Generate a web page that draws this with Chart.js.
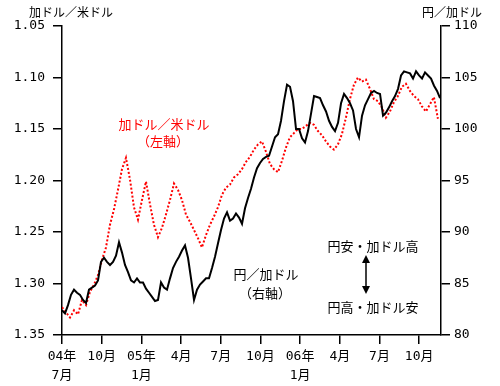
<!DOCTYPE html>
<html>
<head>
<meta charset="utf-8">
<script src="https://cdn.jsdelivr.net/npm/chart.js@4.4.0/dist/chart.umd.min.js"></script>
<style>
  body { margin: 0; background: #fff; }
  #wrap { width: 500px; height: 386px; position: relative; }
</style>
</head>
<body>
<div id="wrap"><canvas id="myChart"></canvas></div>
<script>
// x axis is in months counted from July 2004
var xTickPos = [0, 3, 6, 9, 12, 15, 18, 21, 24, 27];
var xTickLabels = [["04年", "7月"], "10月", ["05年", "1月"], "4月", "7月", "10月", ["06年", "1月"], "4月", "7月", "10月"];
var xMax = 28.65;

// 円／加ドル (right axis), one value per week
var yenStep = 0.2268;
var yenPerCad = [
  82.4, 82.1, 82.9, 83.9, 84.4, 84.1, 83.9, 83.4, 83.1, 84.4,
  84.6, 84.8, 85.3, 87.1, 87.5, 87.1, 86.8, 87.1, 87.7, 89.0,
  88.0, 86.8, 86.1, 85.3, 85.1, 85.5, 85.1, 85.1, 84.5, 84.1,
  83.7, 83.3, 83.4, 85.1, 84.6, 84.4, 85.5, 86.5, 87.1, 87.6,
  88.2, 88.7, 87.5, 85.5, 83.4, 84.4, 84.9, 85.2, 85.5, 85.5,
  86.5, 87.6, 88.9, 90.2, 91.3, 91.9, 91.1, 91.3, 91.8, 91.4,
  90.8, 92.3, 93.3, 94.2, 95.3, 96.2, 96.7, 97.1, 97.3, 97.4,
  98.3, 99.2, 99.5, 100.8, 102.7, 104.3, 104.1, 102.7, 100.0, 100.0,
  99.1, 98.7, 99.8, 101.5, 103.2, 103.1, 103.0, 102.3, 101.7, 100.8,
  100.2, 99.8, 100.6, 102.5, 103.4, 103.0, 102.5, 101.8, 100.0, 99.2,
  101.3, 102.3, 102.9, 103.5, 103.7, 103.5, 103.4, 101.3, 101.6, 102.1,
  102.7, 103.2, 103.9, 105.2, 105.6, 105.5, 105.4, 104.9, 105.6, 105.2,
  104.9, 105.5, 105.2, 104.9, 104.2, 103.7, 103.0
];

// 加ドル／米ドル (left axis, inverted)
var cadStep = 0.3023;
var cadPerUsd = [
  1.323, 1.328, 1.333, 1.326, 1.330, 1.316, 1.321, 1.308, 1.301, 1.292,
  1.277, 1.265, 1.243, 1.228, 1.209, 1.189, 1.178, 1.199, 1.226, 1.238,
  1.219, 1.201, 1.223, 1.243, 1.255, 1.246, 1.233, 1.219, 1.203, 1.209,
  1.219, 1.233, 1.240, 1.248, 1.256, 1.265, 1.253, 1.243, 1.235, 1.226,
  1.214, 1.207, 1.204, 1.197, 1.194, 1.189, 1.182, 1.177, 1.170, 1.165,
  1.162, 1.172, 1.184, 1.189, 1.192, 1.181, 1.168, 1.158, 1.154, 1.150,
  1.150, 1.147, 1.144, 1.146, 1.152, 1.156, 1.162, 1.167, 1.170, 1.165,
  1.155, 1.139, 1.121, 1.107, 1.100, 1.104, 1.102, 1.111, 1.121, 1.123,
  1.129, 1.139, 1.133, 1.124, 1.118, 1.109, 1.106, 1.113, 1.118, 1.121,
  1.128, 1.133, 1.126, 1.119, 1.140
];

var jpFont = '"Noto Sans CJK JP", sans-serif';

// texts and arrow drawn on top of the chart
var notes = {
  id: 'notes',
  afterDraw: function(chart) {
    var ctx = chart.ctx;
    ctx.save();
    ctx.textBaseline = 'middle';
    ctx.font = '12px ' + jpFont;
    ctx.fillStyle = '#000';
    ctx.textAlign = 'left';
    ctx.fillText('加ドル／米ドル', 29, 12);
    ctx.textAlign = 'right';
    ctx.fillText('円／加ドル', 482, 12);

    ctx.font = '13px ' + jpFont;
    ctx.textAlign = 'center';
    ctx.fillStyle = '#ff0000';
    ctx.fillText('加ドル／米ドル', 164, 124);
    ctx.fillText('（左軸）', 163, 141);
    ctx.fillStyle = '#000';
    ctx.fillText('円／加ドル', 266, 274);
    ctx.fillText('（右軸）', 265, 293);
    ctx.fillText('円安・加ドル高', 373, 246);
    ctx.fillText('円高・加ドル安', 373, 307);

    // double arrow
    ctx.strokeStyle = '#000';
    ctx.lineWidth = 1.5;
    ctx.beginPath();
    ctx.moveTo(366, 260);
    ctx.lineTo(366, 290);
    ctx.stroke();
    ctx.beginPath();
    ctx.moveTo(366, 255); ctx.lineTo(362, 263); ctx.lineTo(370, 263); ctx.closePath();
    ctx.moveTo(366, 294); ctx.lineTo(362, 286); ctx.lineTo(370, 286); ctx.closePath();
    ctx.fill();
    ctx.restore();
  }
};

Chart.defaults.font.family = '"DejaVu Sans Mono", "Noto Sans CJK JP", sans-serif';
Chart.defaults.font.size = 13;
Chart.defaults.color = '#000';

new Chart('myChart', {
  type: 'line',
  data: {
    datasets: [{
      label: '円／加ドル',
      data: yenPerCad.map(function(v, i) { return {x: i * yenStep, y: v}; }),
      yAxisID: 'yRight',
      borderColor: '#000',
      borderWidth: 2,
      pointRadius: 0,
      tension: 0
    }, {
      label: '加ドル／米ドル',
      data: cadPerUsd.map(function(v, i) { return {x: i * cadStep, y: v}; }),
      yAxisID: 'yLeft',
      borderColor: '#ff0000',
      borderWidth: 2,
      borderDash: [2, 2],
      pointRadius: 0,
      tension: 0
    }]
  },
  options: {
    responsive: true,
    maintainAspectRatio: false,
    animation: false,
    layout: { padding: { top: 26, left: 0, right: 0, bottom: 0 } },
    plugins: { legend: { display: false }, tooltip: { enabled: false } },
    scales: {
      x: {
        type: 'linear',
        min: 0,
        max: xMax,
        afterBuildTicks: function(scale) {
          scale.ticks = xTickPos.map(function(v) { return {value: v}; });
        },
        afterFit: function(scale) { scale.height = 51; },
        ticks: {
          autoSkip: false,
          maxRotation: 0,
          padding: 3,
          font: { lineHeight: 1.45 },
          callback: function(value, index) { return xTickLabels[index]; }
        },
        grid: { drawOnChartArea: false, drawTicks: true, tickLength: 9, color: '#000', lineWidth: 1.5 },
        border: { color: '#000', width: 1.5 }
      },
      yLeft: {
        position: 'left',
        reverse: true,
        min: 1.05,
        max: 1.35,
        afterBuildTicks: function(scale) {
          scale.ticks = [1.05, 1.10, 1.15, 1.20, 1.25, 1.30, 1.35].map(function(v) { return {value: v}; });
        },
        afterFit: function(scale) { scale.width = 62; },
        ticks: {
          padding: 8,
          callback: function(value) { return value.toFixed(2); }
        },
        grid: { drawOnChartArea: false, drawTicks: true, tickLength: 9, color: '#000', lineWidth: 1.5 },
        border: { color: '#000', width: 1.5 }
      },
      yRight: {
        position: 'right',
        min: 80,
        max: 110,
        afterBuildTicks: function(scale) {
          scale.ticks = [80, 85, 90, 95, 100, 105, 110].map(function(v) { return {value: v}; });
        },
        afterFit: function(scale) { scale.width = 59; },
        ticks: { padding: 4 },
        grid: { drawOnChartArea: false, drawTicks: true, tickLength: 9, color: '#000', lineWidth: 1.5 },
        border: { color: '#000', width: 1.5 }
      }
    }
  },
  plugins: [notes]
});
</script>
</body>
</html>
